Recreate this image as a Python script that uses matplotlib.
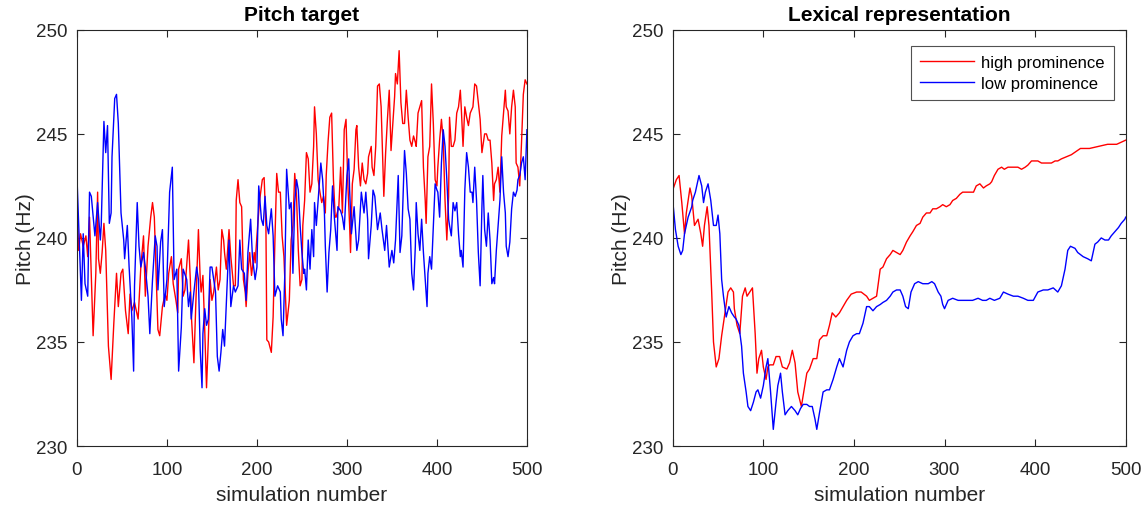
"""pitch target vs lexical representation"""
import matplotlib
matplotlib.use("Agg")
import matplotlib.pyplot as plt

# left panel: pitch target (10 per row)
pt_high_x = [0, 2, 4, 7, 10, 12, 14, 18, 21, 23,
             24, 26, 28, 30, 32, 35, 38, 41, 44, 46,
             49, 51, 54, 57, 59, 61, 64, 68, 71, 74,
             76, 79, 82, 84, 86, 88, 90, 92, 95, 98,
             100, 102, 105, 107, 110, 112, 113, 116, 118, 120,
             124, 126, 127, 130, 132, 135, 137, 138, 140, 142,
             144, 146, 148, 150, 152, 155, 157, 159, 161, 163,
             164, 166, 169, 171, 174, 176, 177, 179, 181, 183,
             185, 187, 188, 190, 192, 194, 197, 198, 201, 203,
             206, 208, 210, 211, 213, 216, 218, 220, 222, 224,
             226, 228, 230, 233, 236, 238, 240, 242, 244, 246,
             248, 250, 251, 253, 255, 257, 259, 261, 263, 264,
             266, 268, 270, 272, 274, 276, 277, 279, 281, 283,
             285, 287, 288, 291, 293, 295, 297, 299, 301, 303,
             304, 306, 308, 310, 311, 313, 315, 317, 319, 321,
             323, 324, 327, 328, 330, 332, 334, 336, 338, 340,
             341, 343, 345, 347, 349, 351, 353, 354, 356, 358,
             360, 362, 364, 366, 368, 370, 372, 374, 376, 377,
             379, 381, 383, 385, 387, 388, 390, 392, 394, 396,
             398, 400, 401, 403, 405, 407, 409, 411, 413, 414,
             416, 418, 420, 422, 424, 426, 427, 429, 431, 433,
             435, 437, 438, 440, 442, 444, 446, 448, 450, 451,
             453, 455, 457, 459, 461, 463, 464, 466, 468, 470,
             472, 474, 476, 477, 479, 481, 483, 485, 487, 488,
             490, 492, 494, 496, 498, 500]
pt_high_y = [241.5, 239.4, 240.2, 239.6, 240.1, 239.1, 241.0, 235.3, 238.3, 242.2,
             239.0, 238.3, 239.3, 240.7, 239.4, 234.8, 233.2, 235.9, 238.3, 236.7,
             238.3, 238.5, 236.5, 235.4, 237.3, 236.5, 236.9, 236.1, 238.6, 240.1,
             237.2, 239.6, 241.0, 241.7, 241.0, 238.3, 235.6, 235.3, 236.7, 237.3,
             237.0, 238.3, 239.1, 237.8, 237.0, 236.4, 238.5, 239.0, 237.2, 237.5,
             239.9, 238.0, 236.4, 234.0, 236.7, 240.4, 238.0, 237.4, 238.2, 235.6,
             232.8, 235.1, 238.0, 237.0, 237.4, 238.6, 237.5, 238.0, 240.4, 239.9,
             239.3, 238.5, 240.4, 239.1, 237.7, 237.7, 241.8, 242.8, 241.7, 241.5,
             238.0, 237.4, 236.7, 238.3, 239.3, 238.2, 239.3, 238.8, 240.7, 241.8,
             242.8, 242.9, 240.6, 235.1, 235.0, 234.5, 236.2, 239.9, 243.1, 242.2,
             242.2, 240.1, 239.1, 235.8, 237.0, 239.9, 240.6, 243.1, 242.0, 239.4,
             237.7, 238.0, 240.6, 241.8, 244.1, 243.8, 242.2, 242.6, 244.4, 246.3,
             245.0, 242.8, 242.2, 241.7, 242.0, 241.2, 243.0, 244.6, 245.8, 246.0,
             242.8, 241.0, 241.0, 241.5, 243.4, 241.2, 245.2, 245.7, 242.6, 240.6,
             239.3, 242.6, 243.3, 245.2, 245.4, 243.4, 242.5, 243.6, 242.8, 242.6,
             243.1, 243.9, 244.4, 243.4, 243.0, 244.4, 247.3, 247.4, 246.3, 243.4,
             242.0, 244.1, 245.7, 247.1, 244.2, 245.5, 246.8, 247.9, 247.4, 249.0,
             246.5, 245.5, 245.5, 247.1, 245.8, 244.7, 244.4, 244.9, 244.6, 244.4,
             246.0, 246.3, 246.6, 243.4, 241.8, 240.7, 243.9, 244.4, 247.4, 245.5,
             242.8, 242.5, 243.4, 244.7, 245.7, 244.7, 241.8, 239.9, 242.0, 245.8,
             244.4, 244.4, 244.7, 246.0, 246.3, 247.1, 246.3, 244.4, 246.3, 245.8,
             245.4, 246.0, 246.1, 246.3, 247.4, 247.3, 246.5, 245.7, 244.1, 244.4,
             245.0, 245.0, 244.7, 244.7, 243.6, 241.8, 242.6, 242.8, 243.4, 242.2,
             244.9, 246.0, 247.1, 246.3, 246.1, 245.0, 246.3, 247.1, 246.3, 243.6,
             243.4, 242.5, 244.6, 246.9, 247.6, 247.4]

pt_low_x = [0, 5, 7, 9, 12, 14, 16, 20, 23, 26,
            27, 30, 32, 34, 36, 38, 39, 42, 44, 46,
            49, 52, 53, 56, 58, 61, 63, 64, 67, 69,
            71, 74, 76, 79, 81, 84, 87, 89, 90, 93,
            95, 97, 100, 103, 106, 108, 111, 113, 116, 118,
            122, 124, 126, 127, 130, 133, 135, 137, 139, 140,
            142, 144, 146, 148, 150, 152, 154, 156, 158, 160,
            162, 164, 165, 167, 169, 171, 174, 176, 179, 181,
            183, 186, 188, 190, 193, 195, 198, 200, 202, 205,
            207, 209, 211, 213, 216, 218, 220, 223, 226, 227,
            229, 231, 233, 236, 238, 240, 242, 244, 246, 248,
            250, 252, 253, 255, 257, 259, 261, 263, 264, 266,
            268, 271, 273, 275, 276, 278, 280, 282, 284, 286,
            289, 290, 293, 295, 297, 300, 302, 303, 305, 308,
            311, 313, 316, 319, 321, 323, 324, 327, 329, 331,
            334, 337, 339, 342, 344, 347, 350, 352, 354, 357,
            359, 361, 364, 366, 368, 370, 372, 374, 376, 377,
            379, 381, 383, 385, 387, 389, 390, 392, 394, 396,
            398, 400, 401, 403, 405, 407, 409, 411, 413, 414,
            416, 418, 420, 422, 424, 426, 427, 429, 431, 433,
            435, 437, 439, 440, 442, 444, 446, 448, 450, 451,
            453, 455, 457, 459, 461, 463, 464, 466, 468, 470,
            472, 474, 476, 477, 479, 481, 483, 485, 487, 489,
            490, 492, 494, 496, 498, 500]
pt_low_y = [243.0, 237.0, 240.2, 237.8, 237.2, 242.2, 242.0, 240.1, 241.7, 239.9,
            240.6, 245.6, 244.1, 245.4, 240.7, 241.2, 243.9, 246.7, 246.9, 245.5,
            241.2, 239.9, 239.0, 240.6, 238.6, 236.2, 233.6, 237.7, 241.7, 239.6,
            238.6, 239.3, 238.6, 237.2, 235.4, 238.0, 240.1, 239.6, 237.5, 239.8,
            240.4, 236.7, 238.0, 242.2, 243.4, 238.0, 238.5, 233.6, 235.7, 238.5,
            238.0, 236.7, 237.4, 236.1, 237.4, 238.6, 238.0, 234.6, 232.8, 235.4,
            236.6, 235.8, 236.1, 238.6, 238.6, 238.0, 237.4, 234.3, 233.6, 234.5,
            235.6, 234.8, 235.8, 237.7, 239.9, 236.7, 237.7, 237.4, 237.7, 239.9,
            238.5, 238.3, 237.0, 239.3, 240.9, 239.1, 238.0, 238.6, 242.5, 240.9,
            240.6, 242.0, 240.6, 240.2, 241.4, 240.1, 237.2, 237.7, 237.4, 236.1,
            235.3, 238.3, 243.3, 241.4, 241.7, 238.3, 241.7, 242.8, 242.3, 240.6,
            239.3, 238.3, 238.5, 237.5, 239.9, 238.5, 240.4, 239.1, 241.7, 240.6,
            241.8, 243.6, 242.8, 241.2, 239.6, 237.4, 239.3, 240.4, 242.5, 241.0,
            239.4, 241.5, 241.3, 241.0, 240.4, 243.0, 243.8, 242.3, 240.2, 241.5,
            239.4, 239.9, 242.2, 241.2, 242.2, 240.9, 239.0, 240.6, 242.3, 242.0,
            240.4, 241.2, 240.4, 239.4, 240.6, 238.6, 239.4, 238.8, 239.9, 243.0,
            239.3, 240.1, 244.2, 243.1, 241.4, 240.9, 238.3, 237.5, 239.6, 241.7,
            240.2, 239.4, 240.9, 239.3, 238.0, 236.7, 238.3, 239.1, 238.5, 240.6,
            242.6, 242.3, 242.2, 241.0, 243.6, 245.2, 244.4, 242.8, 240.9, 240.6,
            240.1, 241.7, 241.3, 241.7, 240.2, 239.1, 239.4, 238.6, 242.3, 244.1,
            243.4, 242.2, 242.2, 241.7, 243.4, 241.8, 239.3, 237.7, 241.5, 243.0,
            240.4, 239.6, 241.2, 239.9, 237.8, 238.1, 237.8, 239.4, 240.6, 241.8,
            243.9, 242.2, 241.2, 239.6, 239.1, 239.8, 241.4, 242.2, 242.0, 242.3,
            242.8, 243.0, 243.6, 243.9, 242.8, 245.2]

# right panel: lexical representation
lex_high_x = [0, 4, 7, 10, 13, 15, 19, 21, 24, 28,
              31, 33, 35, 38, 40, 43, 45, 48, 51, 54,
              57, 61, 64, 67, 68, 71, 74, 77, 80, 82,
              85, 88, 91, 93, 95, 98, 100, 103, 105, 107,
              111, 114, 118, 121, 126, 129, 132, 135, 138, 142,
              145, 148, 151, 155, 159, 162, 166, 170, 173, 176,
              180, 184, 188, 192, 197, 203, 208, 214, 217, 221,
              225, 229, 232, 236, 240, 243, 247, 251, 254, 258,
              262, 265, 269, 273, 276, 280, 284, 287, 291, 295,
              298, 302, 306, 309, 313, 317, 320, 324, 328, 332,
              335, 339, 343, 346, 350, 352, 355, 359, 363, 366,
              370, 374, 378, 381, 385, 389, 392, 396, 400, 403,
              407, 411, 414, 418, 422, 425, 429, 440, 450, 460,
              470, 480, 490, 500]
lex_high_y = [242.3, 242.8, 243.0, 241.7, 240.2, 241.2, 242.4, 242.0, 240.6, 240.9,
              240.2, 239.6, 240.6, 241.5, 240.6, 237.4, 235.0, 233.8, 234.2, 235.3,
              236.2, 237.4, 237.6, 237.4, 236.6, 235.8, 235.4, 237.2, 237.6, 237.2,
              237.4, 237.6, 235.4, 233.5, 234.2, 234.6, 233.8, 233.2, 233.8, 233.9,
              233.9, 234.3, 234.3, 233.8, 233.7, 234.0, 234.6, 234.0, 232.6, 231.9,
              232.7, 233.5, 233.7, 234.2, 234.2, 235.1, 235.3, 235.3, 235.8, 236.4,
              236.2, 236.4, 236.7, 237.0, 237.3, 237.4, 237.4, 237.2, 237.0, 237.1,
              237.2, 238.5, 238.6, 239.0, 239.2, 239.4, 239.3, 239.2, 239.4, 239.8,
              240.1, 240.3, 240.6, 240.7, 241.0, 241.2, 241.2, 241.4, 241.4, 241.5,
              241.6, 241.5, 241.6, 241.8, 241.9, 242.1, 242.2, 242.2, 242.2, 242.2,
              242.5, 242.6, 242.4, 242.5, 242.6, 242.7, 243.0, 243.3, 243.4, 243.3,
              243.4, 243.4, 243.4, 243.4, 243.3, 243.4, 243.5, 243.7, 243.7, 243.7,
              243.6, 243.6, 243.6, 243.6, 243.7, 243.7, 243.8, 244.0, 244.3, 244.3,
              244.4, 244.5, 244.5, 244.7]

lex_low_x = [0, 3, 6, 9, 11, 13, 17, 21, 22, 25,
             29, 32, 34, 36, 39, 42, 45, 48, 50, 52,
             54, 56, 59, 62, 65, 68, 70, 73, 76, 78,
             81, 83, 86, 89, 92, 94, 97, 100, 103, 105,
             108, 111, 114, 116, 119, 121, 124, 127, 131, 135,
             138, 141, 144, 148, 151, 154, 157, 159, 162, 166,
             170, 173, 177, 181, 184, 188, 192, 195, 199, 203,
             206, 210, 214, 217, 221, 225, 229, 232, 236, 240,
             243, 247, 251, 254, 257, 260, 263, 267, 271, 276,
             282, 286, 289, 293, 296, 298, 300, 304, 309, 315,
             320, 326, 331, 337, 342, 346, 350, 355, 361, 365,
             370, 376, 381, 387, 392, 398, 403, 409, 414, 420,
             425, 429, 433, 436, 439, 444, 447, 453, 458, 462,
             466, 469, 473, 477, 481, 484, 488, 492, 495, 499,
             500]
lex_low_y = [241.8, 240.4, 239.6, 239.2, 239.4, 240.2, 241.0, 241.5, 241.8, 242.2,
             243.0, 242.5, 241.7, 242.2, 242.6, 241.8, 240.6, 240.6, 241.1, 240.2,
             238.0, 237.2, 236.2, 236.7, 236.4, 236.2, 236.1, 235.8, 234.8, 233.5,
             232.6, 231.9, 231.7, 232.1, 232.6, 232.7, 232.3, 232.9, 233.8, 234.2,
             232.6, 230.8, 232.1, 232.9, 233.5, 232.6, 231.5, 231.7, 231.9, 231.7,
             231.5, 231.8, 232.0, 232.0, 231.9, 231.9, 231.3, 230.8, 231.6, 232.6,
             232.7, 232.7, 233.2, 233.8, 234.2, 233.8, 234.6, 235.0, 235.3, 235.4,
             235.4, 235.9, 236.7, 236.7, 236.5, 236.7, 236.8, 236.9, 237.0, 237.2,
             237.4, 237.5, 237.5, 237.2, 236.7, 236.6, 237.4, 237.8, 237.9, 237.8,
             237.8, 237.9, 237.8, 237.4, 237.2, 236.8, 236.6, 237.0, 237.1, 237.0,
             237.0, 237.0, 237.0, 237.1, 237.0, 237.0, 237.1, 237.0, 237.1, 237.4,
             237.3, 237.2, 237.2, 237.1, 237.0, 237.0, 237.4, 237.5, 237.5, 237.6,
             237.4, 237.7, 238.5, 239.4, 239.6, 239.5, 239.3, 239.1, 239.0, 238.9,
             239.7, 239.8, 240.0, 239.9, 239.9, 240.1, 240.3, 240.5, 240.7, 240.9,
             241.0]

txt = "#262626"
plt.rcParams["font.family"] = ["Liberation Sans", "DejaVu Sans"]
plt.rcParams["font.size"] = 14

fig = plt.figure(figsize=(11.48, 5.1), dpi=100)
ax1 = fig.add_axes([0.067, 0.1235, 0.392, 0.816])
ax2 = fig.add_axes([0.586, 0.1235, 0.3946, 0.816])

ax1.plot(pt_high_x, pt_high_y, color="red", lw=1.0, label="high prominence")
ax1.plot(pt_low_x, pt_low_y, color="blue", lw=1.0, label="low prominence")
ax1.set_title("Pitch target", fontweight="bold", fontsize=15, color="black", pad=7)

ax2.plot(lex_high_x, lex_high_y, color="red", lw=1.0, label="high prominence")
ax2.plot(lex_low_x, lex_low_y, color="blue", lw=1.0, label="low prominence")
ax2.set_title("Lexical representation", fontweight="bold", fontsize=15, color="black", pad=7)
leg = ax2.legend(loc="upper right", bbox_to_anchor=(0.9735, 0.9615), fontsize=12,
                 frameon=True, fancybox=False, edgecolor=txt, handlelength=3.2,
                 handletextpad=0.45, borderpad=0.55, labelspacing=0.35, borderaxespad=0)
leg.get_frame().set_linewidth(0.8)

for ax in (ax1, ax2):
    ax.set_xlim(0, 500)
    ax.set_ylim(230, 250)
    ax.set_xticks([0, 100, 200, 300, 400, 500])
    ax.set_yticks([230, 235, 240, 245, 250])
    ax.set_xlabel("simulation number", color=txt, fontsize=15, labelpad=5)
    ax.set_ylabel("Pitch (Hz)", color=txt, fontsize=15, labelpad=0.5)
    ax.tick_params(direction="in", length=5, width=0.8, colors=txt, labelsize=13.5,
                   top=True, right=True)
    ax.tick_params(axis="x", pad=11)
    ax.tick_params(axis="y", pad=7)
    for s in ax.spines.values():
        s.set_color(txt)
        s.set_linewidth(0.8)

plt.savefig("out.png", dpi=100)
